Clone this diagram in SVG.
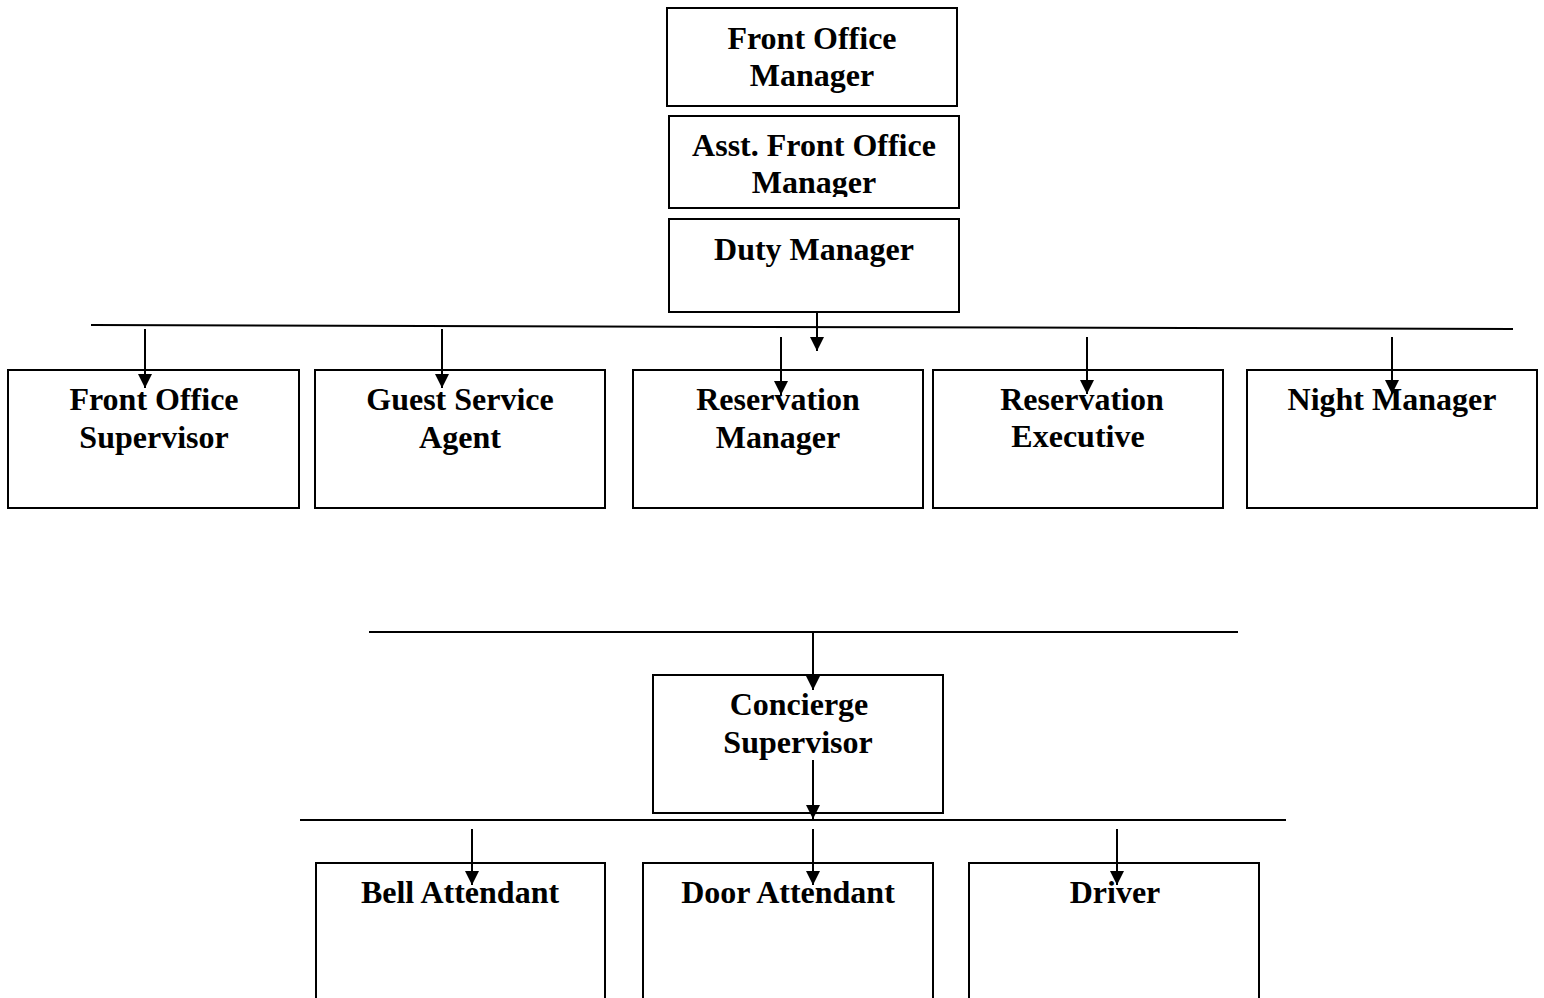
<svg xmlns="http://www.w3.org/2000/svg" width="1544" height="998" viewBox="0 0 1544 998">
<defs>
<style>
.box{fill:#fff;stroke:#000;stroke-width:2}
.t{font-family:"Liberation Serif","Times New Roman",serif;font-weight:bold;font-size:32px;text-anchor:middle;fill:#000}
.ln{stroke:#000;stroke-width:2;fill:none}
.ar{stroke:#000;stroke-width:2;fill:none;marker-end:url(#ahx)}
</style>
<marker id="ahx" viewBox="0 0 14 14" refX="14" refY="7" markerWidth="14" markerHeight="14" markerUnits="userSpaceOnUse" orient="auto">
<path d="M0,0 L14,7 L0,14 Z" fill="#000"/>
</marker>
<clipPath id="c2"><rect x="669" y="116" width="290" height="81"/></clipPath>
</defs>

<g id="front-office-manager">
<rect class="box" x="667" y="8" width="290" height="98"/>
<text class="t" x="812" y="49">Front Office</text>
<text class="t" x="812" y="86">Manager</text>
</g>
<g id="asst-front-office-manager">
<rect class="box" x="669" y="116" width="290" height="92"/>
<text class="t" x="814" y="156">Asst. Front Office</text>
<text class="t" x="814" y="193" clip-path="url(#c2)">Manager</text>
</g>
<g id="duty-manager">
<rect class="box" x="669" y="219" width="290" height="93"/>
<text class="t" x="814" y="260">Duty Manager</text>
</g>

<g id="front-office-supervisor">
<rect class="box" x="8" y="370" width="291" height="138"/>
<text class="t" x="154" y="410">Front Office</text>
<text class="t" x="154" y="448">Supervisor</text>
</g>
<g id="guest-service-agent">
<rect class="box" x="315" y="370" width="290" height="138"/>
<text class="t" x="460" y="410">Guest Service</text>
<text class="t" x="460" y="448">Agent</text>
</g>
<g id="reservation-manager">
<rect class="box" x="633" y="370" width="290" height="138"/>
<text class="t" x="778" y="410">Reservation</text>
<text class="t" x="778" y="448">Manager</text>
</g>
<g id="reservation-executive">
<rect class="box" x="933" y="370" width="290" height="138"/>
<text class="t" x="1082" y="410">Reservation</text>
<text class="t" x="1078" y="447">Executive</text>
</g>
<g id="night-manager">
<rect class="box" x="1247" y="370" width="290" height="138"/>
<text class="t" x="1392" y="410">Night Manager</text>
</g>

<g id="concierge-supervisor">
<rect class="box" x="653" y="675" width="290" height="138"/>
<text class="t" x="799" y="715">Concierge</text>
<text class="t" x="798" y="753">Supervisor</text>
</g>

<g id="bell-attendant">
<rect class="box" x="316" y="863" width="289" height="145"/>
<text class="t" x="460" y="903">Bell Attendant</text>
</g>
<g id="door-attendant">
<rect class="box" x="643" y="863" width="290" height="145"/>
<text class="t" x="788" y="903">Door Attendant</text>
</g>
<g id="driver">
<rect class="box" x="969" y="863" width="290" height="145"/>
<text class="t" x="1115" y="903">Driver</text>
</g>

<g id="connectors">
<line class="ln" x1="91" y1="325" x2="1513" y2="329"/>
<line class="ar" x1="817" y1="312" x2="817" y2="351"/>
<line class="ar" x1="145" y1="329" x2="145" y2="388"/>
<line class="ar" x1="442" y1="329" x2="442" y2="388"/>
<line class="ar" x1="781" y1="337" x2="781" y2="395"/>
<line class="ar" x1="1087" y1="337" x2="1087" y2="394"/>
<line class="ar" x1="1392" y1="337" x2="1392" y2="394"/>

<line class="ln" x1="369" y1="632" x2="1238" y2="632"/>
<line class="ar" x1="813" y1="632" x2="813" y2="690"/>
<line class="ar" x1="813" y1="760" x2="813" y2="819"/>
<line class="ln" x1="300" y1="820" x2="1286" y2="820"/>
<line class="ar" x1="472" y1="829" x2="472" y2="885"/>
<line class="ar" x1="813" y1="829" x2="813" y2="885"/>
<line class="ar" x1="1117" y1="829" x2="1117" y2="885"/>
</g>
</svg>
